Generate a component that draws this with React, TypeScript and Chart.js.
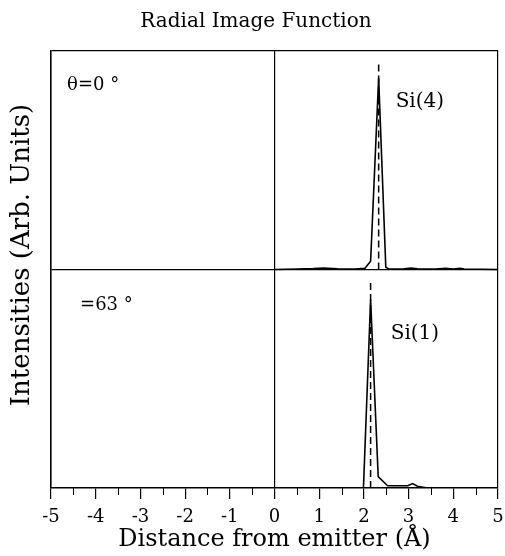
import React, { useEffect, useRef } from 'react';
import { Chart, registerables } from 'chart.js';

Chart.register(...registerables);

const TITLE = 'Radial Image Function';
const X_TITLE = 'Distance from emitter (Å)';
const Y_TITLE = 'Intensities (Arb. Units)';
const X_MIN = -5;
const X_MAX = 5;

// Upper panel (θ = 0°), Si(4) peak
const TOP_X = [0, 0.5, 0.87, 1.1, 1.41, 1.8, 2.02, 2.15, 2.33, 2.49, 2.56, 2.9, 3.05, 3.2, 3.6, 3.83, 4.0, 4.15, 4.24, 5];
const TOP_Y = [0, 0.002, 0.004, 0.007, 0.003, 0.002, 0.005, 0.038, 0.876, 0.01, 0.002, 0.003, 0.007, 0.003, 0.002, 0.005, 0.002, 0.006, 0.002, 0];
const TOP_PEAK_X = 2.33;
const TOP_PEAK_MARK = 0.95;

// Lower panel (θ = 63°), Si(1) peak
const BOT_X = [0, 1.99, 2.15, 2.32, 2.53, 2.98, 3.09, 3.2, 3.42, 5];
const BOT_Y = [0, 0, 0.862, 0.052, 0.01, 0.01, 0.02, 0.008, 0, 0];
const BOT_PEAK_X = 2.15;
const BOT_PEAK_MARK = 0.94;

const TOP_LABEL = 'θ=0 °';
const BOT_LABEL = '=63 °';
const TOP_PEAK_LABEL = 'Si(4)';
const BOT_PEAK_LABEL = 'Si(1)';

const FONT = "'DejaVu Serif', serif";

const extras = {
  id: 'extras',
  afterDraw(chart: any) {
    const { ctx, chartArea, scales } = chart;
    const xs = scales.x;
    const ys = scales.y;
    ctx.save();
    // minor ticks
    ctx.strokeStyle = '#000';
    ctx.lineWidth = 1;
    for (let v = X_MIN + 0.5; v < X_MAX; v += 1) {
      const px = Math.round(xs.getPixelForValue(v)) + 0.5;
      ctx.beginPath();
      ctx.moveTo(px, chartArea.bottom);
      ctx.lineTo(px, chartArea.bottom + 7);
      ctx.stroke();
    }
    ctx.fillStyle = '#000';
    // chart title
    ctx.textAlign = 'center';
    ctx.textBaseline = 'middle';
    ctx.font = `20px ${FONT}`;
    ctx.fillText(TITLE, 256, 21.5);
    // panel labels
    ctx.textBaseline = 'alphabetic';
    ctx.textAlign = 'left';
    ctx.font = `18px ${FONT}`;
    ctx.fillText(TOP_LABEL, xs.getPixelForValue(-4.64), ys.getPixelForValue(1.82));
    ctx.fillText(BOT_LABEL, xs.getPixelForValue(-4.35), ys.getPixelForValue(0.813));
    ctx.font = `20px ${FONT}`;
    ctx.fillText(TOP_PEAK_LABEL, xs.getPixelForValue(2.71), ys.getPixelForValue(1.745));
    ctx.fillText(BOT_PEAK_LABEL, xs.getPixelForValue(2.6), ys.getPixelForValue(0.68));
    // y title
    ctx.translate(22, 255);
    ctx.rotate(-Math.PI / 2);
    ctx.textAlign = 'center';
    ctx.textBaseline = 'middle';
    ctx.font = `26px ${FONT}`;
    ctx.fillText(Y_TITLE, 0, 0);
    ctx.restore();
  },
};

export default function App() {
  const ref = useRef<HTMLCanvasElement>(null);
  useEffect(() => {
    document.body.style.margin = '0';
    const canvas = ref.current!;
    const topData = TOP_X.map((x, i) => ({ x, y: TOP_Y[i] + 1 }));
    const botData = BOT_X.map((x, i) => ({ x, y: BOT_Y[i] }));
    const line = { borderColor: '#000', borderWidth: 1.6, pointRadius: 0, tension: 0, fill: false };
    const dash = { borderColor: '#000', borderWidth: 1.5, pointRadius: 0, borderDash: [7, 4], fill: false };
    const chart = new Chart(canvas, {
      type: 'line',
      data: {
        datasets: [
          { ...line, data: topData },
          { ...line, data: botData },
          { ...dash, data: [{ x: TOP_PEAK_X, y: 1 }, { x: TOP_PEAK_X, y: 1 + TOP_PEAK_MARK }] },
          { ...dash, data: [{ x: BOT_PEAK_X, y: 0 }, { x: BOT_PEAK_X, y: BOT_PEAK_MARK }] },
        ],
      },
      options: {
        animation: false,
        responsive: false,
        devicePixelRatio: 1,
        layout: { autoPadding: false, padding: { left: 51, right: 7, top: 51, bottom: 0 } },
        plugins: {
          legend: { display: false },
          tooltip: { enabled: false },
          title: { display: false },
        },
        scales: {
          x: {
            type: 'linear',
            min: X_MIN,
            max: X_MAX,
            afterFit: (s: any) => {
              s.height = 68;
              s.paddingLeft = 0;
              s.paddingRight = 0;
            },
            ticks: { stepSize: 1, color: '#000', padding: 8, font: { family: FONT, size: 18 } },
            grid: {
              color: (c: any) => (c.tick && [X_MIN, 0, X_MAX].includes(c.tick.value) ? '#000' : 'rgba(0,0,0,0)'),
              tickColor: '#000',
              tickLength: 11,
              lineWidth: 1.2,
            },
            border: { display: true, color: '#000', width: 1.5 },
            title: {
              display: true,
              text: X_TITLE,
              color: '#000',
              font: { family: FONT, size: 24, lineHeight: 1 },
              padding: { top: 0, bottom: 4 },
            },
          },
          y: {
            type: 'linear',
            min: 0,
            max: 2,
            afterFit: (s: any) => {
              s.width = 0;
            },
            ticks: { display: false, stepSize: 1 },
            grid: {
              drawTicks: false,
              color: (c: any) => (c.tick && c.tick.value > 0 ? '#000' : 'rgba(0,0,0,0)'),
              lineWidth: 1.2,
            },
            border: { display: true, color: '#000', width: 1.5 },
          },
        },
      },
      plugins: [extras],
    } as any);
    return () => chart.destroy();
  }, []);
  return <canvas ref={ref} width={505} height={556} style={{ display: 'block' }} />;
}
